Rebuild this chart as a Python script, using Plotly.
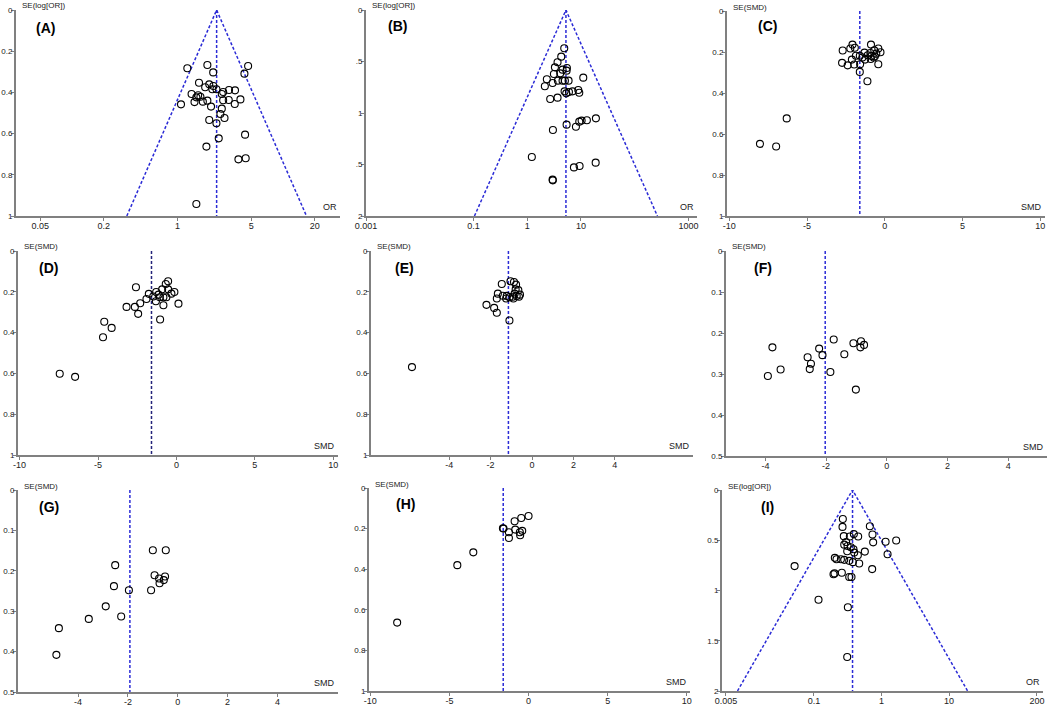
import math
import plotly.graph_objects as go

W, H = 1052, 707

# ---- data ----
# (A) OR / SE(log[OR])
a_or = [1.24, 1.92, 2.18, 4.67, 4.31, 1.60, 2.00, 1.83, 2.19, 2.14, 2.34, 2.63, 2.71, 3.08, 3.51,
        1.36, 1.57, 1.51, 1.65, 1.08, 1.45, 1.74, 1.92, 2.71, 3.06, 3.95, 3.49, 2.08, 2.63, 2.55,
        2.79, 2.00, 2.34, 4.37, 2.46, 1.88, 3.78, 4.43, 1.51]
a_se = [0.283, 0.267, 0.303, 0.272, 0.309, 0.353, 0.361, 0.375, 0.369, 0.385, 0.385, 0.408, 0.398,
        0.388, 0.390, 0.408, 0.414, 0.424, 0.421, 0.458, 0.447, 0.445, 0.440, 0.438, 0.437, 0.434,
        0.456, 0.469, 0.479, 0.505, 0.524, 0.534, 0.550, 0.605, 0.623, 0.663, 0.725, 0.720, 0.942]
a_pooled = 2.35

# (B) OR / SE(log[OR])
b_or = [4.89, 4.30, 3.67, 3.28, 5.48, 4.55, 5.41, 4.12, 3.14, 11.05, 2.32, 3.73, 4.55, 5.03, 5.89,
        2.97, 2.13, 4.96, 5.98, 6.99, 8.92, 9.31, 5.33, 3.67, 2.68, 19.0, 12.9, 10.3, 9.31, 5.41,
        8.07, 3.01, 1.22, 18.8, 9.44, 7.41, 2.97, 3.00]
b_se = [0.372, 0.453, 0.508, 0.557, 0.563, 0.579, 0.589, 0.615, 0.621, 0.657, 0.673, 0.686, 0.686,
        0.686, 0.686, 0.709, 0.741, 0.790, 0.796, 0.790, 0.777, 0.803, 0.809, 0.851, 0.864, 1.052,
        1.071, 1.074, 1.084, 1.113, 1.133, 1.165, 1.427, 1.482, 1.515, 1.528, 1.647, 1.654]
b_pooled = 5.26

# (C) SMD / SE(SMD)
c_smd = [-2.08, -0.89, -1.93, -2.22, -2.71, -0.42, -0.68, -0.28, -1.31, -0.93, -0.55, -1.86, -1.61,
         -1.10, -0.85, -0.64, -1.44, -2.12, -1.27, -0.91, -0.72, -2.75, -2.39, -1.97, -1.59, -0.42,
         -1.61, -1.12, -6.31, -8.03, -6.99]
c_se = [0.164, 0.164, 0.179, 0.183, 0.193, 0.183, 0.192, 0.201, 0.203, 0.205, 0.208, 0.218, 0.218,
        0.216, 0.219, 0.221, 0.227, 0.237, 0.237, 0.234, 0.227, 0.253, 0.265, 0.261, 0.260, 0.260,
        0.297, 0.343, 0.524, 0.648, 0.661]
c_pooled = -1.61

# (D)
d_smd = [-0.53, -0.68, -2.58, -1.29, -0.91, -0.53, -0.13, -1.76, -1.14, -0.32, -1.48, -1.06, -0.83,
         -0.64, -1.91, -1.31, -2.31, 0.13, -0.83, -3.18, -2.65, -2.44, -1.04, -4.60, -4.13, -4.68,
         -7.44, -6.46]
d_se = [0.148, 0.162, 0.178, 0.201, 0.188, 0.188, 0.201, 0.210, 0.214, 0.209, 0.223, 0.227, 0.227,
        0.227, 0.235, 0.246, 0.256, 0.258, 0.266, 0.274, 0.274, 0.308, 0.336, 0.347, 0.377, 0.423,
        0.602, 0.617]
d_pooled = -1.59

# (E)
e_smd = [-1.04, -0.87, -0.77, -1.46, -0.79, -0.66, -0.84, -1.65, -0.58, -0.74, -1.41, -1.22, -0.93,
         -0.63, -1.09, -1.70, -0.90, -1.25, -2.20, -1.83, -1.70, -1.09, -5.80]
e_se = [0.148, 0.152, 0.165, 0.162, 0.188, 0.192, 0.209, 0.209, 0.214, 0.220, 0.219, 0.220, 0.224,
        0.224, 0.227, 0.233, 0.233, 0.233, 0.264, 0.279, 0.303, 0.341, 0.569]
e_pooled = -1.14

# (F)
f_smd = [-3.77, -3.92, -3.50, -2.61, -2.50, -2.54, -2.23, -2.12, -1.75, -1.86, -1.40, -1.10, -0.85,
         -0.75, -0.87, -1.02]
f_se = [0.235, 0.305, 0.289, 0.259, 0.275, 0.288, 0.238, 0.254, 0.216, 0.295, 0.252, 0.225, 0.220,
        0.229, 0.235, 0.338]
f_pooled = -2.03

# (G)
g_smd = [-1.00, -0.48, -2.51, -0.93, -0.51, -0.75, -0.56, -0.73, -2.56, -1.07, -1.96, -2.89, -2.27,
         -3.57, -4.77, -4.87]
g_se = [0.149, 0.149, 0.186, 0.211, 0.214, 0.219, 0.223, 0.231, 0.238, 0.248, 0.248, 0.288, 0.313,
        0.319, 0.342, 0.408]
g_pooled = -1.92

# (H)
h_smd = [0.0, -0.46, -0.88, -1.62, -1.58, -0.84, -0.40, -0.55, -1.24, -0.53, -1.24, -3.49, -4.50, -8.30]
h_se = [0.138, 0.148, 0.164, 0.198, 0.200, 0.205, 0.211, 0.218, 0.218, 0.233, 0.246, 0.317, 0.380, 0.663]
h_pooled = -1.60

# (I) OR / SE(log[OR])
i_or = [0.268, 0.265, 0.673, 0.390, 0.736, 0.277, 0.340, 0.452, 1.65, 1.15, 0.753, 0.300, 0.281,
        0.315, 0.352, 0.385, 0.311, 0.567, 0.395, 0.447, 1.23, 0.204, 0.216, 0.251, 0.281, 0.333,
        0.377, 0.468, 0.0518, 0.728, 0.202, 0.195, 0.259, 0.333, 0.360, 0.117, 0.318, 0.311]
i_se = [0.289, 0.367, 0.361, 0.439, 0.443, 0.459, 0.462, 0.462, 0.502, 0.515, 0.521, 0.518, 0.544,
        0.557, 0.570, 0.590, 0.610, 0.613, 0.623, 0.649, 0.639, 0.675, 0.689, 0.689, 0.695, 0.705,
        0.718, 0.731, 0.757, 0.787, 0.830, 0.839, 0.823, 0.866, 0.866, 1.092, 1.167, 1.662]
i_pooled = 0.373

Z = 1.96
BLUE = "#2b2bd6"
AXIS = "#808080"
FONT = "Liberation Sans, Arial, sans-serif"

# panel table: (tag, box px [left, right, top, bottom], x, y, pooled, log?, xrange, xticks, ymax,
#               yticks, yticktext, xlabel, ylabel, funnel?, line colour, tag pos)
panels = [
    ("(A)", [16, 340, 10, 216], a_or, a_se, a_pooled, True, [-1.53, 1.54],
     [0.05, 0.2, 1, 5, 20], 1, [0, 0.2, 0.4, 0.6, 0.8, 1], None, "OR", "SE(log[OR])", True, BLUE, (45, 28)),
    ("(B)", [366, 697, 10, 216], b_or, b_se, b_pooled, True, [-3.0, 3.16],
     [0.001, 0.1, 1, 10, 1000], 2, [0, 0.5, 1, 1.5, 2], ["0", ".5", "1", ".5", "2"], "OR", "SE(log[OR])", True, BLUE, (397, 26)),
    ("(C)", [727, 1045, 11, 216], c_smd, c_se, c_pooled, False, [-10.15, 10.3],
     [-10, -5, 0, 5, 10], 1, [0, 0.2, 0.4, 0.6, 0.8, 1], None, "SMD", "SE(SMD)", False, BLUE, (767, 26)),
    ("(D)", [18, 338, 251, 455], d_smd, d_se, d_pooled, False, [-10.1, 10.3],
     [-10, -5, 0, 5, 10], 1, [0, 0.2, 0.4, 0.6, 0.8, 1], None, "SMD", "SE(SMD)", False, "#23237a", (48, 268)),
    ("(E)", [371, 693, 251, 455], e_smd, e_se, e_pooled, False, [-7.78, 7.78],
     [-4, -2, 0, 2, 4], 1, [0, 0.2, 0.4, 0.6, 0.8, 1], None, "SMD", "SE(SMD)", False, BLUE, (404, 268)),
    ("(F)", [726, 1047, 251, 456], f_smd, f_se, f_pooled, False, [-5.3, 5.28],
     [-4, -2, 0, 2, 4], 0.5, [0, 0.1, 0.2, 0.3, 0.4, 0.5], None, "SMD", "SE(SMD)", False, BLUE, (763, 268)),
    ("(G)", [18, 338, 490, 692], g_smd, g_se, g_pooled, False, [-6.41, 6.43],
     [-4, -2, 0, 2, 4], 0.5, [0, 0.1, 0.2, 0.3, 0.4, 0.5], None, "SMD", "SE(SMD)", False, BLUE, (49, 507)),
    ("(H)", [369, 690, 488, 691], h_smd, h_se, h_pooled, False, [-10.08, 10.2],
     [-10, -5, 0, 5, 10], 1, [0, 0.2, 0.4, 0.6, 0.8, 1], None, "SMD", "SE(SMD)", False, BLUE, (405, 504)),
    ("(I)", [722, 1043, 490, 691], i_or, i_se, i_pooled, True, [-2.36, 2.39],
     [0.005, 0.1, 1, 10, 200], 2, [0, 0.5, 1, 1.5, 2], ["0", "0.5", "1", "1.5", "2"], "OR", "SE(log[OR])", True, BLUE, (767, 507)),
]

fig = go.Figure()
annotations = []
layout = {}

for k, (tag, box, xs, ys, pooled, islog, xr, xt, ymax, yt, ytt, xlab, ylab, funnel, lcol, tpos) in enumerate(panels):
    n = k + 1
    sfx = "" if n == 1 else str(n)
    xa, ya = "x" + sfx, "y" + sfx
    left, right, top, bottom = box
    dash = dict(color=lcol, width=1.5, dash="3px,2px")

    # pooled estimate line
    fig.add_trace(go.Scatter(x=[pooled, pooled], y=[0, ymax], mode="lines", line=dash,
                             xaxis=xa, yaxis=ya, hoverinfo="skip", showlegend=False))
    if funnel:
        f = math.exp(Z * ymax)
        fig.add_trace(go.Scatter(x=[pooled / f, pooled, pooled * f], y=[ymax, 0, ymax], mode="lines",
                                 line=dash, xaxis=xa, yaxis=ya, hoverinfo="skip", showlegend=False))
    fig.add_trace(go.Scatter(x=xs, y=ys, mode="markers", xaxis=xa, yaxis=ya, showlegend=False,
                             marker=dict(symbol="circle-open", size=7, color="black", line=dict(width=1.1))))

    layout["xaxis" + sfx] = dict(
        domain=[left / W, right / W], anchor=ya, type="log" if islog else "linear", range=xr,
        tickvals=xt, ticktext=[str(v) for v in xt], showgrid=False, zeroline=False, automargin=False,
        showline=True, linecolor=AXIS, linewidth=2, ticks="outside", ticklen=3, tickcolor=AXIS,
        tickfont=dict(size=9, color="#222", family=FONT), ticklabeloverflow="allow", ticklabelstandoff=-3,
    )
    layout["yaxis" + sfx] = dict(
        domain=[1 - bottom / H, 1 - top / H], anchor=xa, range=[ymax, 0],
        tickvals=yt, ticktext=ytt if ytt else [("%g" % v) for v in yt], showgrid=False, zeroline=False,
        automargin=False, showline=True, linecolor=AXIS, linewidth=2, ticks="outside", ticklen=3,
        tickcolor=AXIS, tickfont=dict(size=8, color="#222", family=FONT), ticklabeloverflow="allow",
        ticklabelstandoff=-3,
    )

    annotations.append(dict(text=ylab, xref="paper", yref="paper", x=(left + 4) / W, y=1 - (top - 4) / H,
                            xanchor="left", yanchor="middle", showarrow=False,
                            font=dict(size=8, color="#222", family=FONT)))
    annotations.append(dict(text=xlab, xref="paper", yref="paper", x=(right - 1) / W, y=1 - (bottom - 2) / H,
                            xanchor="right", yanchor="bottom", showarrow=False,
                            font=dict(size=9, color="#222", family=FONT)))
    annotations.append(dict(text="<b>%s</b>" % tag, xref="paper", yref="paper", x=tpos[0] / W, y=1 - tpos[1] / H,
                            xanchor="center", yanchor="middle", showarrow=False,
                            font=dict(size=14, color="black", family=FONT)))

fig.update_layout(
    width=W, height=H, margin=dict(l=0, r=0, t=0, b=0),
    paper_bgcolor="white", plot_bgcolor="white", annotations=annotations, **layout,
)

# the page body has a default 8px margin; drop it so the figure sits at the window's corner
fig.write_html("out.html", config={"displayModeBar": False},
               post_script="document.body.style.margin='0';")
